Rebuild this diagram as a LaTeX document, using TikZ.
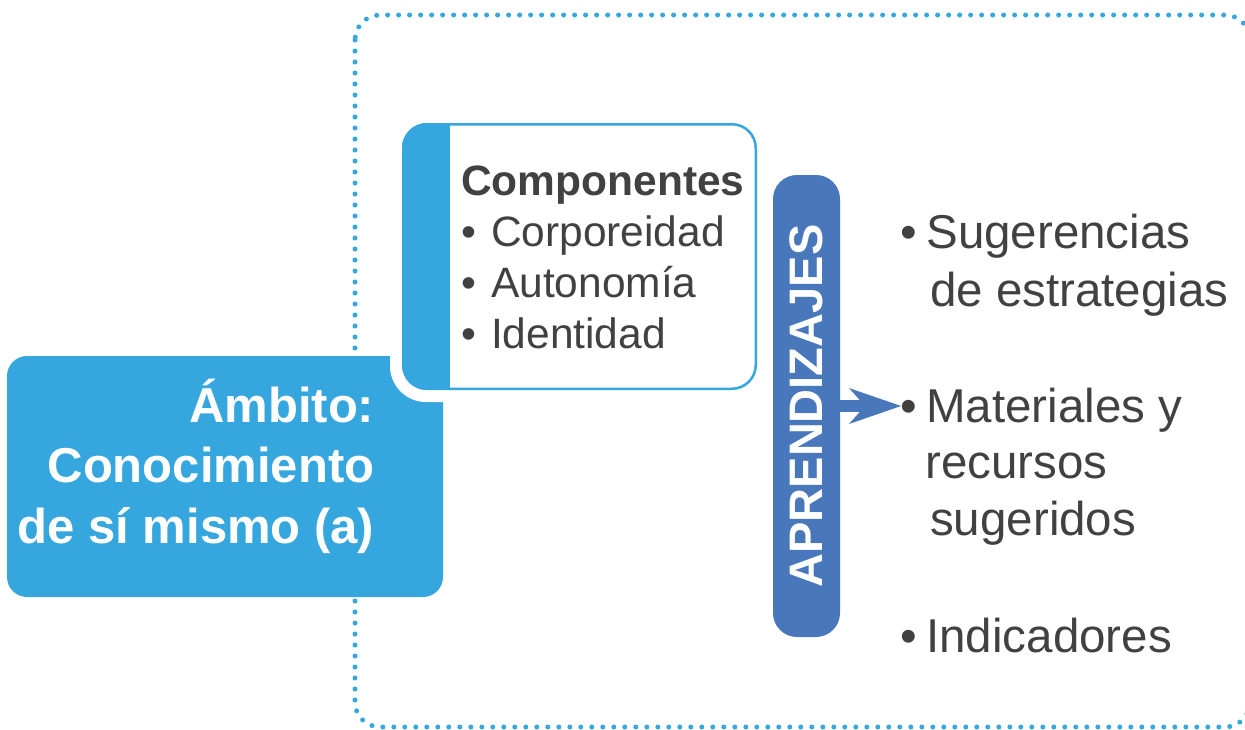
\documentclass[tikz,border=0pt]{standalone}
\usepackage{fontspec}
\setmainfont{Liberation Sans}
\usetikzlibrary{arrows.meta}
\definecolor{lblue}{HTML}{36A6DE}
\definecolor{dblue}{HTML}{4878BB}
\definecolor{txtgray}{HTML}{414141}
\begin{document}
\begin{tikzpicture}[x=1pt,y=-1pt,
  frame/.style={lblue, line width=5pt, line cap=round, dash pattern=on 0pt off 11pt, rounded corners=25pt},
  mainbox/.style={fill=lblue, rounded corners=20pt, inner sep=0pt, outer sep=0pt, minimum width=436pt, minimum height=241pt},
  maintext/.style={font=\fontsize{49}{60.5}\selectfont\bfseries, text=white, align=right, inner sep=0pt},
  compouter/.style={fill=lblue, rounded corners=25pt, inner sep=0pt, outer sep=0pt, minimum width=355pt, minimum height=267pt},
  comptext/.style={font=\fontsize{42.5}{51}\selectfont, text=txtgray, align=left, inner sep=0pt},
  aprbox/.style={fill=dblue, rounded corners=24pt, inner sep=0pt, outer sep=0pt, minimum width=67pt, minimum height=462pt, text=white, font=\fontsize{47}{50}\selectfont\bfseries},
  listtext/.style={font=\fontsize{47.5}{58}\selectfont, text=txtgray, align=left, inner sep=0pt},
  bigarrow/.style={dblue, line width=12pt, -{Stealth[length=52pt, width=36pt, inset=16pt, line width=0pt]}}
]
\useasboundingbox (0,0) rectangle (1245,729);
% dotted frame
\draw[frame] (355,15) rectangle (1250,727);
% main box
\node[mainbox] (ambitobox) at (225,476.5) {};
\node[maintext, anchor=base east] (ambitotext) at (374.5,543) {Ámbito:\\Conocimiento\\de sí mismo (a)};
% componentes box with white halo
\fill[white, rounded corners=36pt] (390,111) rectangle (769,402);
\node[compouter] (compbox) at (579.5,256.5) {};
\begin{scope}
  \clip[rounded corners=25pt] (402,123) rectangle (757,390);
  \fill[white, rounded corners=23pt] (420,125.5) rectangle (754.5,387.5);
  \fill[lblue] (402,123) rectangle (450,390);
\end{scope}
\node[comptext, anchor=base west] (comptext) at (461,348) {\textbf{Componentes}\\•\hspace{15pt}Corporeidad\\•\hspace{15pt}Autonomía\\•\hspace{15pt}Identidad};
% aprendizajes bar
\node[aprbox] (apr) at (806.5,406) {\rotatebox{90}{APRENDIZAJES}};
% list
\node[listtext, anchor=base west] (item1) at (900,306) {•\hspace{9.5pt}Sugerencias\\\hspace*{30pt}de estrategias};
\node[listtext, anchor=base west, font=\fontsize{47.5}{56.5}\selectfont] (item2) at (900,535) {•\hspace{9.5pt}Materiales y\\\hspace*{25pt}recursos\\\hspace*{30pt}sugeridos};
\node[listtext, anchor=base west] (item3) at (900,652) {•\hspace{9.5pt}Indicadores};
% arrow
\coordinate (arrowend) at (901,406);
\draw[bigarrow] (apr.east) -- (arrowend);
\end{tikzpicture}
\end{document}
